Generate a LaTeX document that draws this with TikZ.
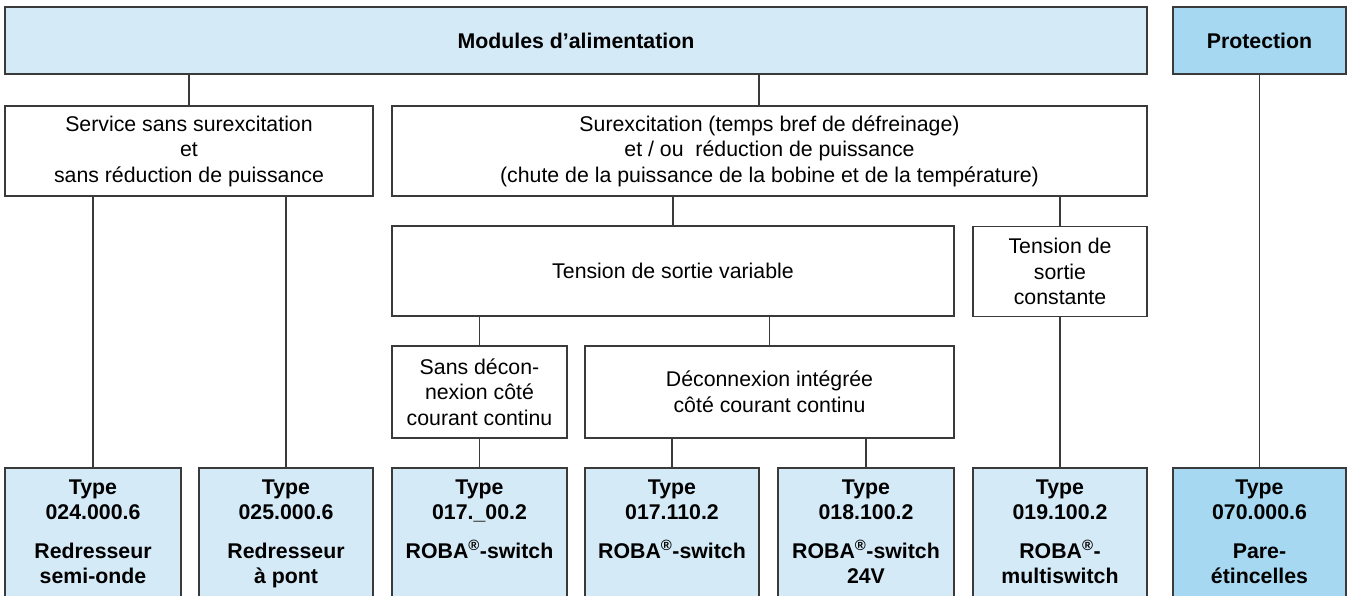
\documentclass[tikz,border=0pt]{standalone}
\usepackage{fontspec}
\setmainfont{Liberation Sans}
\definecolor{lineC}{HTML}{3A3A3A}
\definecolor{lightB}{HTML}{D5EAF7}
\definecolor{darkB}{HTML}{A6D9F1}
\newcommand{\reg}{\textsuperscript{®}}
\begin{document}
\begin{tikzpicture}[x=1pt,y=-1pt,
  box/.style={draw=lineC, line width=1.3pt, fill=white, align=center, inner sep=0pt,
    font=\fontsize{21.3}{25.5}\selectfont},
  head/.style={box, fill=lightB, font=\fontsize{21.3}{25.5}\selectfont\bfseries},
  prothead/.style={head, fill=darkB},
  leaf/.style={draw=lineC, line width=1.3pt, fill=lightB, inner sep=0pt, minimum width=175pt, minimum height=132pt},
  protleaf/.style={leaf, fill=darkB},
  leaftext/.style={anchor=north, align=center, inner sep=0pt, font=\fontsize{21.3}{25.5}\selectfont\bfseries},
  conn/.style={draw=lineC, line width=1.3pt}]
\useasboundingbox (0,0) rectangle (1351,595);
\clip (0,0) rectangle (1351,595);
% level 1
\node[head, minimum width=1142pt, minimum height=67pt] (top) at (576,40.5) {Modules d’alimentation};
\node[prothead, minimum width=173pt, minimum height=67pt] (prot) at (1259.5,40.5) {Protection};
% level 2
\node[box, minimum width=368pt, minimum height=90pt] (l2l) at (189,151)
  {Service sans surexcitation\\et\\sans réduction de puissance};
\node[box, minimum width=755pt, minimum height=90pt] (l2r) at (769.5,151)
  {Surexcitation (temps bref de défreinage)\\et / ou\ \ réduction de puissance\\(chute de la puissance de la bobine et de la température)};
% level 3
\node[box, minimum width=562pt, minimum height=90pt] (var) at (673,271) {Tension de sortie variable};
\node[box, minimum width=174pt, minimum height=90pt] (const) at (1060,271.5) {Tension de\\sortie\\constante};
% level 4
\node[box, minimum width=175pt, minimum height=92pt] (sans) at (479.5,392) {Sans décon-\\nexion côté\\courant continu};
\node[box, minimum width=369pt, minimum height=92pt] (integ) at (769.5,392) {Déconnexion intégrée\\côté courant continu};
% leaves
\node[leaf, minimum width=176pt] (b1) at (93,534) {};
\node[leaf, minimum width=174pt] (b2) at (286,534) {};
\node[leaf] (b3) at (479.5,534) {};
\node[leaf, minimum width=174pt] (b4) at (672,534) {};
\node[leaf, minimum width=176pt] (b5) at (866,534) {};
\node[leaf, minimum width=174pt] (b6) at (1060,534) {};
\node[protleaf, minimum width=173pt] (b7) at (1259.5,534) {};
\node[leaftext] (t1) at ([yshift=-9pt]b1.north) {\strut Type\\024.000.6\\[13pt]Redresseur\\semi-onde};
\node[leaftext] (t2) at ([yshift=-9pt]b2.north) {\strut Type\\025.000.6\\[13pt]Redresseur\\à pont};
\node[leaftext] (t3) at ([yshift=-9pt]b3.north) {\strut Type\\017.\_00.2\\[13pt]ROBA\reg-switch};
\node[leaftext] (t4) at ([yshift=-9pt]b4.north) {\strut Type\\017.110.2\\[13pt]ROBA\reg-switch};
\node[leaftext] (t5) at ([yshift=-9pt]b5.north) {\strut Type\\018.100.2\\[13pt]ROBA\reg-switch\\24V};
\node[leaftext] (t6) at ([yshift=-9pt]b6.north) {\strut Type\\019.100.2\\[13pt]ROBA\reg-\\multiswitch};
\node[leaftext] (t7) at ([yshift=-9pt]b7.north) {\strut Type\\070.000.6\\[13pt]Pare-\\étincelles};
% connectors
\coordinate (jr) at (759,90);
\draw[conn] (l2l.north |- top.south) -- (l2l.north);
\draw[conn] (jr |- top.south) -- (jr |- l2r.north);
\draw[conn] (b7.north |- prot.south) -- (b7.north);
\draw[conn] (b1.north |- l2l.south) -- (b1.north);
\draw[conn] (b2.north |- l2l.south) -- (b2.north);
\draw[conn] (var.north |- l2r.south) -- (var.north);
\draw[conn] (const.north |- l2r.south) -- (const.north);
\draw[conn] (sans.north |- var.south) -- (sans.north);
\draw[conn] (integ.north |- var.south) -- (integ.north);
\draw[conn] (b3.north |- sans.south) -- (b3.north);
\draw[conn] (b4.north |- integ.south) -- (b4.north);
\draw[conn] (b5.north |- integ.south) -- (b5.north);
\draw[conn] (b6.north |- const.south) -- (b6.north);
\end{tikzpicture}
\end{document}
